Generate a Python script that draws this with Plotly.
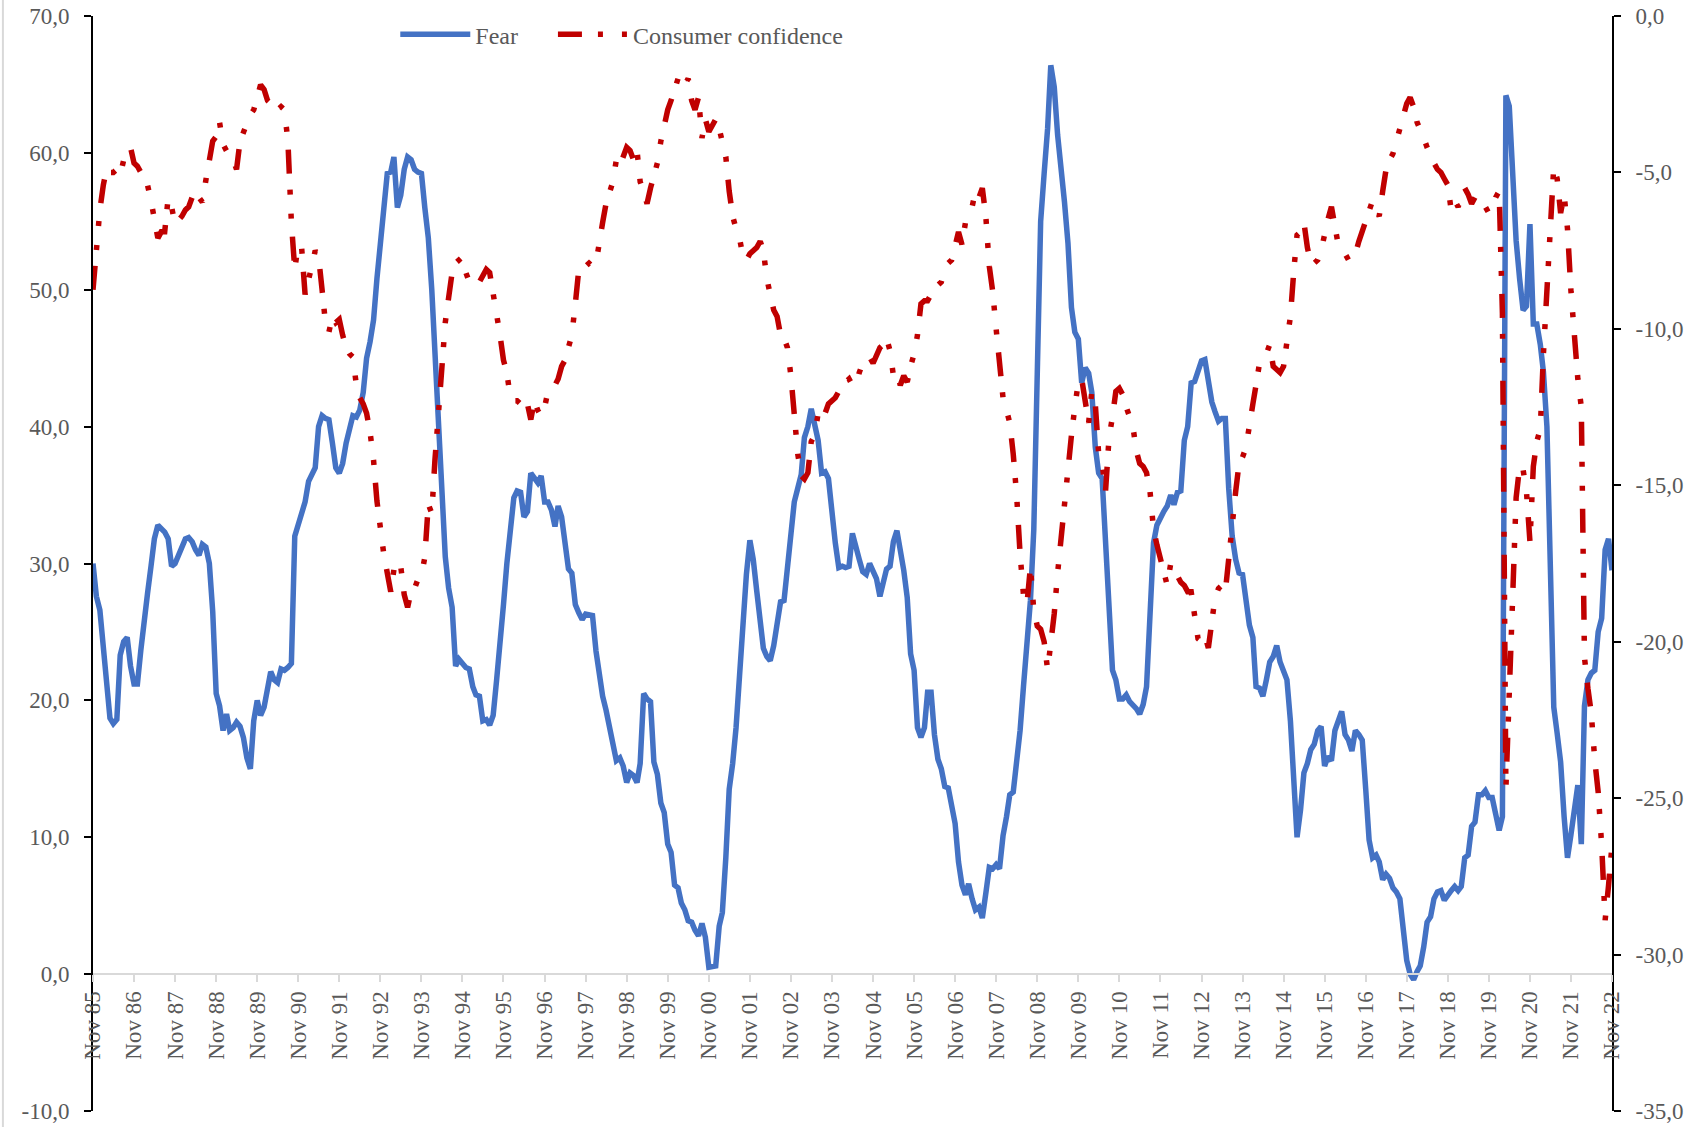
import pandas as pd
import plotly.graph_objects as go

# ---- data (monthly, Nov 1985 .. Nov 2022) ----
fear = [
    30.0, 27.6, 26.6, 23.8, 21.4, 18.7, 18.3, 18.6, 23.3, 24.3, 24.6, 22.5,
    21.2, 21.2, 23.7, 25.5, 27.8, 29.8, 31.8, 32.8, 32.6, 32.3, 31.8, 29.8,
    30.0, 30.6, 31.4, 31.8, 31.9, 31.6, 31.0, 30.6, 31.4, 31.2, 30.0, 26.5,
    20.5, 19.6, 17.8, 19.0, 17.8, 18.0, 18.4, 18.1, 17.3, 15.8, 15.0, 18.5,
    20.0, 18.9, 19.5, 20.8, 22.1, 21.5, 21.3, 22.3, 22.2, 22.4, 22.7, 32.0,
    32.9, 33.6, 34.5, 36.0, 36.4, 37.0, 40.0, 40.8, 40.6, 40.5, 38.8, 37.0,
    36.6, 37.3, 38.8, 39.7, 40.8, 40.7, 41.2, 42.5, 45.0, 46.2, 47.8, 50.8,
    53.7, 56.4, 58.5, 58.6, 59.7, 56.0, 56.9, 58.8, 59.7, 59.5, 58.8, 58.6,
    58.5, 56.0, 53.8, 50.0, 45.5, 39.5, 35.0, 30.5, 28.2, 26.8, 22.5, 23.0,
    22.7, 22.4, 22.3, 21.0, 20.4, 20.3, 18.5, 18.6, 18.2, 18.9, 21.5, 24.8,
    27.0, 30.0, 32.8, 34.8, 35.3, 35.2, 33.4, 33.8, 36.6, 36.2, 35.9, 36.4,
    34.5, 34.5, 33.9, 32.7, 34.2, 33.4, 31.5, 29.6, 29.3, 27.0, 26.4, 25.9,
    26.3, 26.3, 26.2, 23.6, 21.7, 20.3, 19.3, 18.2, 17.0, 15.6, 15.8, 15.2,
    14.0, 14.7, 14.5, 14.0, 15.4, 20.5, 20.1, 19.9, 15.5, 14.6, 12.5, 11.8,
    9.5, 8.9, 6.5, 6.3, 5.2, 4.7, 3.9, 3.8, 3.2, 2.8, 3.7, 2.7,
    0.5, 0.5, 0.6, 3.5, 4.5, 8.5, 13.5, 15.4, 18.0, 21.8, 26.0, 29.2,
    31.7, 30.3, 28.0, 25.7, 23.8, 23.2, 22.9, 24.0, 25.8, 27.2, 27.3, 29.8,
    32.0, 34.5, 35.5, 36.5, 39.2, 40.0, 41.3, 40.1, 39.0, 36.6, 36.7, 36.2,
    33.4, 31.5, 29.7, 29.8, 29.7, 29.8, 32.2, 31.0, 30.3, 29.4, 29.2, 30.0,
    29.4, 28.9, 27.6, 28.7, 29.6, 29.8, 31.6, 32.4, 31.2, 29.5, 27.5, 23.4,
    22.2, 18.0, 17.3, 18.0, 20.6, 20.6, 17.5, 15.7, 15.0, 13.7, 13.6, 12.2,
    11.0, 8.2, 6.5, 5.8, 6.6, 5.5, 4.7, 4.9, 4.1, 5.9, 7.8, 7.7,
    8.0, 7.7, 10.1, 11.5, 13.1, 13.3, 15.2, 17.8, 21.0, 24.5, 27.3, 32.5,
    43.0, 55.0, 58.5, 61.8, 66.4, 64.8, 61.3, 59.0, 56.4, 53.4, 48.7, 46.9,
    46.4, 43.2, 44.3, 43.9, 42.5, 38.5, 36.6, 36.2, 31.5, 26.4, 22.2, 21.5,
    20.1, 20.1, 20.4, 19.9, 19.7, 19.4, 19.0, 19.7, 21.0, 26.0, 31.5, 32.8,
    33.4, 33.8, 34.2, 35.0, 34.3, 35.2, 35.3, 39.0, 40.0, 43.2, 43.3, 44.0,
    44.8, 44.9, 43.0, 41.8, 41.1, 40.4, 40.6, 40.6, 35.5, 32.0, 30.3, 29.3,
    29.2, 27.5, 25.5, 24.6, 21.0, 20.9, 20.3, 21.5, 22.8, 23.2, 24.0, 22.8,
    22.2, 21.5, 18.5, 14.5, 10.0, 12.0, 14.7, 15.4, 16.4, 16.8, 17.8, 18.1,
    15.2, 15.9, 15.6, 17.8, 18.5, 19.2, 17.5, 17.1, 16.3, 17.8, 17.5, 17.1,
    13.5, 9.8, 8.5, 8.7, 8.2, 6.9, 7.3, 7.0, 6.3, 6.0, 5.5, 3.0,
    1.0, 0.0, -0.4, 0.2, 0.6, 2.0, 3.8, 4.2, 5.5, 6.0, 6.1, 5.4,
    5.8, 6.1, 6.4, 6.1, 6.4, 8.5, 8.7, 10.8, 11.1, 13.1, 13.1, 13.4,
    12.9, 12.9, 11.7, 10.5, 11.5, 64.2, 63.4, 58.0, 53.6, 50.8, 48.5, 48.8,
    54.8, 47.5, 47.5, 46.0, 44.0, 40.0, 30.0, 19.5, 17.6, 15.5, 11.5, 8.5,
    10.2, 12.0, 13.8, 9.5, 19.6, 21.5, 22.0, 22.2, 25.0, 26.0, 31.0, 31.8,
    29.5,
]

consumer_confidence = [
    -8.75, -7.35, -6.2, -5.4, -4.9, -5.0, -5.0, -4.9, -5.1, -4.6, -4.4, -4.2,
    -4.7, -4.8, -5.0, -5.25, -5.4, -5.9, -6.5, -7.1, -6.9, -6.9, -5.8, -6.1,
    -6.65, -6.55, -6.4, -6.2, -6.1, -5.8, -5.6, -5.8, -5.95, -5.25, -4.55, -4.0,
    -3.85, -3.4, -4.1, -4.3, -4.5, -4.6, -4.9, -4.0, -3.7, -3.4, -3.15, -3.0,
    -2.6, -2.2, -2.35, -2.7, -2.8, -2.8, -3.0, -2.9, -3.0, -4.0, -6.6, -8.1,
    -7.3, -7.4, -8.9, -8.3, -8.0, -7.5, -7.7, -8.75, -9.8, -10.1, -9.6, -9.8,
    -9.7, -10.2, -10.6, -10.8, -10.9, -11.8, -12.2, -12.4, -12.7, -13.3, -14.2, -15.5,
    -16.5, -17.2, -17.8, -18.4, -17.7, -17.9, -17.6, -18.5, -18.9, -18.4, -18.3, -18.0,
    -17.9, -17.3, -15.6, -15.9, -14.2, -12.5, -11.0, -9.8, -9.0, -8.2, -7.9, -7.8,
    -7.7, -8.2, -8.5, -8.6, -8.6, -8.5, -8.3, -8.1, -8.2, -8.8, -9.4, -10.2,
    -11.0, -11.4, -12.2, -12.3, -12.3, -12.4, -12.6, -12.4, -12.9, -12.3, -12.6, -12.8,
    -12.5, -12.0, -11.9, -11.8, -11.6, -11.2, -11.0, -10.6, -10.2, -9.2, -8.1, -8.0,
    -8.0, -7.9, -8.0, -7.9, -7.2, -6.6, -6.0, -5.7, -5.3, -4.6, -4.8, -4.5,
    -4.2, -4.3, -4.6, -4.3, -5.3, -5.6, -6.0, -5.5, -5.1, -4.7, -4.0, -3.5,
    -3.0, -2.7, -2.4, -2.0, -1.9, -2.2, -2.0, -2.7, -3.0, -2.6, -3.9, -3.3,
    -3.7, -3.5, -3.3, -3.6, -4.0, -4.5, -5.6, -6.4, -6.8, -7.1, -7.7, -7.8,
    -7.6, -7.5, -7.4, -7.2, -7.5, -8.4, -8.9, -9.4, -9.6, -10.2, -10.3, -10.6,
    -11.5, -12.9, -14.0, -14.7, -14.8, -14.6, -13.6, -13.4, -12.7, -12.9, -12.7, -12.4,
    -12.3, -12.2, -12.0, -11.9, -11.7, -11.6, -11.8, -11.8, -11.4, -11.1, -11.0, -10.9,
    -11.1, -10.8, -10.6, -10.5, -10.3, -10.7, -11.5, -11.4, -11.8, -11.5, -11.7, -11.2,
    -10.8, -10.2, -9.2, -9.1, -9.1, -8.9, -8.7, -8.6, -8.5, -8.1, -7.9, -7.8,
    -7.3, -6.9, -7.3, -6.6, -6.3, -6.1, -5.6, -5.8, -5.5, -6.4, -8.0, -8.8,
    -10.0, -11.0, -12.2, -12.6, -13.0, -14.0, -15.3, -17.2, -18.5, -18.8, -17.6, -19.0,
    -19.5, -19.6, -20.0, -20.9, -20.1, -19.1, -17.8, -16.6, -15.9, -14.6, -13.4, -12.5,
    -11.7, -11.6, -12.2, -13.0, -12.0, -12.4, -14.0, -14.3, -15.2, -13.5, -12.8, -12.0,
    -11.9, -12.1, -12.5, -12.9, -13.1, -13.9, -14.3, -14.4, -14.6, -15.2, -16.4, -16.9,
    -17.4, -17.8, -18.2, -17.5, -17.6, -17.9, -18.1, -18.2, -18.4, -18.4, -19.2, -19.9,
    -20.0, -19.8, -20.2, -19.2, -18.6, -18.3, -18.2, -18.4, -17.2, -16.2, -15.2, -14.3,
    -14.1, -13.8, -13.0, -12.4, -11.8, -11.1, -11.0, -10.8, -10.5, -11.2, -11.3, -11.4,
    -11.2, -10.4, -9.6, -8.1, -7.0, -6.9, -6.6, -7.4, -7.9, -7.9, -7.8, -7.5,
    -6.9, -6.5, -6.1, -6.8, -7.3, -7.4, -7.6, -7.8, -7.6, -7.6, -7.2, -6.9,
    -6.6, -6.2, -5.9, -6.2, -6.4, -5.6, -4.9, -4.6, -4.4, -4.0, -3.6, -3.2,
    -2.8, -2.6, -2.9, -3.4, -3.6, -3.9, -4.2, -4.5, -4.7, -4.9, -5.0, -5.2,
    -5.4, -6.2, -5.9, -6.1, -5.8, -5.5, -5.7, -6.0, -5.8, -5.9, -5.9, -6.1,
    -6.3, -6.2, -5.8, -5.6, -9.5, -24.7, -22.0, -18.5, -15.4, -14.4, -14.5, -15.2,
    -16.8, -14.4, -13.6, -13.2, -10.8, -9.0, -7.0, -4.8, -5.2, -6.3, -5.7, -6.8,
    -8.8, -10.4, -11.6, -12.5, -20.5, -21.5, -22.3, -23.8, -24.8, -26.5, -28.9, -27.8,
    -26.5,
]

series_names = ["Fear", "Consumer confidence"]
start_month = "1985-11-01"
end_month = "2022-11-01"
tick_years = list(range(1985, 2023))
tick_labels = ["Nov %02d" % (y % 100) for y in tick_years]
left_ticks = [-10, 0, 10, 20, 30, 40, 50, 60, 70]
right_ticks = [-35, -30, -25, -20, -15, -10, -5, 0]

months = pd.date_range(start_month, end_month, freq="MS")
assert len(months) == len(fear) == len(consumer_confidence), (len(months), len(fear), len(consumer_confidence))

tick_vals = [pd.Timestamp(year=y, month=11, day=1) for y in tick_years]


def fmt(v):
    return ("%.1f" % v).replace(".", ",")


FONT = "Liberation Serif, Times New Roman, serif"
GREY = "#595959"
NBSP_PAD = "\u00a0" * 5  # widens the gap between the two legend entries

fig = go.Figure()
fig.add_trace(go.Scatter(
    x=months, y=fear, name=series_names[0] + NBSP_PAD, mode="lines",
    line=dict(color="#4472C4", width=5.5),
    yaxis="y",
))
fig.add_trace(go.Scatter(
    x=months, y=consumer_confidence, name=series_names[1], mode="lines",
    line=dict(color="#C00000", width=5.5, dash="24px,16px,5px,19px,5px,18px"),
    yaxis="y2",
))

axis_font = dict(family=FONT, size=23, color=GREY)

fig.update_layout(
    width=1698, height=1127,
    margin=dict(l=93, r=86, t=16, b=16, autoexpand=False),
    paper_bgcolor="white", plot_bgcolor="white",
    font=axis_font,
    showlegend=True,
    legend=dict(orientation="h", x=0.199, y=0.983, xanchor="left", yanchor="middle",
                font=dict(family=FONT, size=24, color=GREY),
                bgcolor="rgba(0,0,0,0)", itemwidth=70),
    xaxis=dict(
        range=[months[0], months[-1]],
        tickvals=tick_vals, ticktext=tick_labels,
        tickangle=-90,
        showgrid=False, zeroline=False,
        showline=True, linecolor="#d9d9d9", linewidth=2,
        ticks="outside", ticklen=7, tickcolor="#d9d9d9", tickwidth=1.5,
        tickfont=axis_font,
        anchor="free", position=0.125, automargin=False,
        ticklabeloverflow="allow",
    ),
    yaxis=dict(
        range=[-10, 70],
        tickvals=left_ticks, ticktext=[fmt(v) for v in left_ticks],
        showgrid=False, zeroline=False,
        showline=True, linecolor="black", linewidth=2,
        ticks="outside", ticklen=7, tickcolor="black", tickwidth=2,
        tickfont=axis_font,
        ticklabelstandoff=10, automargin=False, ticklabeloverflow="allow",
    ),
    yaxis2=dict(
        range=[-35, 0], overlaying="y", side="right",
        tickvals=right_ticks, ticktext=[fmt(v) for v in right_ticks],
        showgrid=False, zeroline=False,
        showline=True, linecolor="black", linewidth=2,
        ticks="outside", ticklen=7, tickcolor="black", tickwidth=2,
        tickfont=axis_font,
        ticklabelstandoff=10, automargin=False, ticklabeloverflow="allow",
    ),
)

fig.add_shape(type="line", xref="paper", yref="paper",
              x0=-0.0593, x1=-0.0593, y0=-0.02, y1=1.02,
              line=dict(color="#d9d9d9", width=2))

# remove the browser's default page margin so the figure fills the window exactly
fig.write_html(
    "out.html",
    config={"displayModeBar": False},
    post_script="document.documentElement.style.margin='0';"
                "document.body.style.margin='0';"
                "document.body.style.overflow='hidden';",
)
